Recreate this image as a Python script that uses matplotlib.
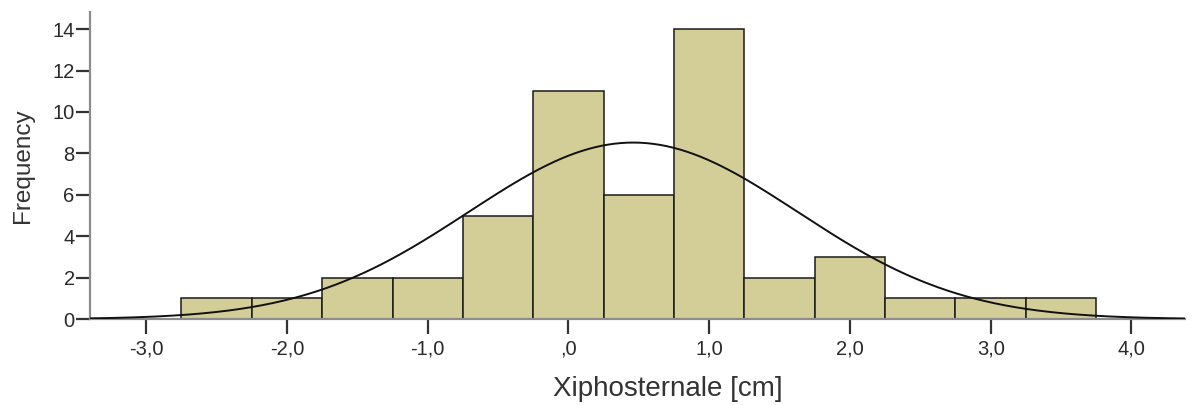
import numpy as np
import matplotlib.pyplot as plt
from matplotlib.ticker import FuncFormatter

plt.rcParams['font.family'] = ['Liberation Sans', 'DejaVu Sans']

# histogram bins (cm) and counts
bin_left = [-2.75, -2.25, -1.75, -1.25, -0.75, -0.25, 0.25, 0.75, 1.25, 1.75, 2.25, 2.75, 3.25]
counts = [1, 1, 2, 2, 5, 11, 6, 14, 2, 3, 1, 1, 1]
bin_width = 0.5

# fitted normal curve parameters
mean = 0.46
sd = 1.17

x_ticks = [-3, -2, -1, 0, 1, 2, 3, 4]
y_ticks = [0, 2, 4, 6, 8, 10, 12, 14]

fig = plt.figure(figsize=(11.92, 4.05), dpi=100)
ax = fig.add_axes([0.0755, 0.212, 0.9185, 0.758])

ax.bar(bin_left, counts, width=bin_width, align='edge',
       color='#d3ce97', edgecolor='#1a1a1a', linewidth=1.1, zorder=2)

xs = np.linspace(-3.42, 4.4, 500)
n = sum(counts)
ys = n * bin_width / (sd * np.sqrt(2 * np.pi)) * np.exp(-(xs - mean) ** 2 / (2 * sd ** 2))
ax.plot(xs, ys, color='#111111', linewidth=1.4, zorder=3)

ax.set_xlim(-3.40, 4.38)
ax.set_ylim(0, 14.82)
ax.set_xticks(x_ticks)
ax.set_yticks(y_ticks)

def comma_fmt(v, pos):
    s = '%.1f' % v
    s = s.replace('.', ',')
    if s.startswith('0,'):
        s = s[1:]
    return s

ax.xaxis.set_major_formatter(FuncFormatter(comma_fmt))

for side in ['top', 'right']:
    ax.spines[side].set_visible(False)
for side in ['left', 'bottom']:
    ax.spines[side].set_color('#8c8c8c')
    ax.spines[side].set_linewidth(1.6)

ax.tick_params(axis='both', colors='#333333', labelsize=14.5, length=11, width=1.6,
               labelcolor='#2a2a2a')
ax.tick_params(axis='x', pad=4)
ax.tick_params(axis='y', pad=1, length=10)

ax.set_ylabel('Frequency', fontsize=17.5, color='#333333')
ax.yaxis.set_label_coords(-0.051, 0.5)
ax.set_xlabel('Xiphosternale [cm]', fontsize=20, color='#333333')
ax.xaxis.set_label_coords(0.528, -0.186)

fig.savefig('out.png', dpi=100)
